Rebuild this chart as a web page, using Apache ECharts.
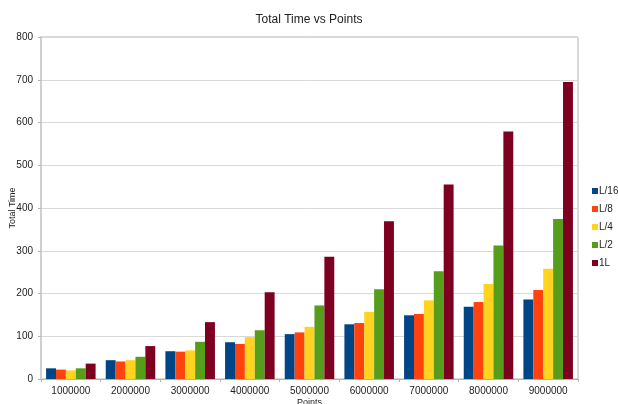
<!DOCTYPE html>
<html>
<head>
<meta charset="utf-8">
<script src="https://cdn.jsdelivr.net/npm/echarts@6/dist/echarts.min.js"></script>
<style>
  html, body { margin: 0; padding: 0; background: #fff; }
  #chart { width: 618px; height: 404px; }
</style>
</head>
<body>
<div id="chart"></div>
<script>
// Problem sizes on the x axis
const categories = ['1000000', '2000000', '3000000', '4000000', '5000000', '6000000', '7000000', '8000000', '9000000'];

// Total time for each chunk size
const seriesNames = ['L/16', 'L/8', 'L/4', 'L/2', '1L'];
const timeL16 = [25, 44, 65, 86, 105, 128, 149, 169, 186];
const timeL8  = [22, 41, 64, 82, 109, 131, 152, 180, 208];
const timeL4  = [20, 44, 67, 98, 122, 157, 184, 222, 258];
const timeL2  = [25, 52, 87, 114, 172, 210, 252, 312, 374];
const time1L  = [36, 77, 133, 203, 286, 369, 455, 579, 695];
const seriesData = [timeL16, timeL8, timeL4, timeL2, time1L];

const colors = ['#004586', '#ff420e', '#ffd320', '#579d1c', '#7e0021'];
const yTicks = { min: 0, max: 800, interval: 100 };

const font = 'Liberation Sans, Arial, sans-serif';
const chart = echarts.init(document.getElementById('chart'), null, { renderer: 'canvas' });

chart.setOption({
  animation: false,
  color: colors,
  textStyle: { fontFamily: font },
  title: {
    text: 'Total Time vs Points',
    left: 'center',
    top: 9,
    textStyle: { fontSize: 12, fontWeight: 'normal', color: '#222', fontFamily: font }
  },
  legend: {
    orient: 'vertical',
    left: 592,
    top: 186,
    padding: 0,
    itemWidth: 6,
    itemHeight: 6,
    itemGap: 8,
    icon: 'rect',
    textStyle: { fontSize: 10, color: '#222', padding: [0, 0, 0, -4] },
    data: seriesNames
  },
  grid: {
    left: 41, right: 40, top: 37, bottom: 25,
    containLabel: false,
    outerBoundsMode: 'none',
    show: true,
    borderColor: '#b3b3b3',
    borderWidth: 1
  },
  xAxis: {
    type: 'category',
    data: categories,
    name: 'Points',
    nameLocation: 'middle',
    nameGap: 19,
    nameMoveOverlap: false,
    nameTextStyle: { fontSize: 9, color: '#222' },
    axisLine: { lineStyle: { color: '#b3b3b3', width: 1 } },
    axisTick: { show: true, alignWithLabel: false, length: 3, lineStyle: { color: '#b3b3b3' } },
    axisLabel: { fontSize: 10, color: '#222', margin: 7 }
  },
  yAxis: {
    type: 'value',
    min: yTicks.min,
    max: yTicks.max,
    interval: yTicks.interval,
    name: 'Total Time',
    nameLocation: 'middle',
    nameGap: 24,
    nameMoveOverlap: false,
    nameTextStyle: { fontSize: 9, color: '#222' },
    axisLine: { show: true, lineStyle: { color: '#cfcfcf', width: 2 } },
    axisTick: { show: true, length: 3, lineStyle: { color: '#b3b3b3' } },
    axisLabel: { fontSize: 10, color: '#222', margin: 8 },
    splitLine: { lineStyle: { color: '#d9d9d9', width: 1 } }
  },
  series: seriesNames.map((name, i) => ({
    name: name,
    type: 'bar',
    data: seriesData[i],
    barGap: '0%',
    barCategoryGap: '17%',
    itemStyle: { color: colors[i] }
  }))
});
</script>
</body>
</html>
